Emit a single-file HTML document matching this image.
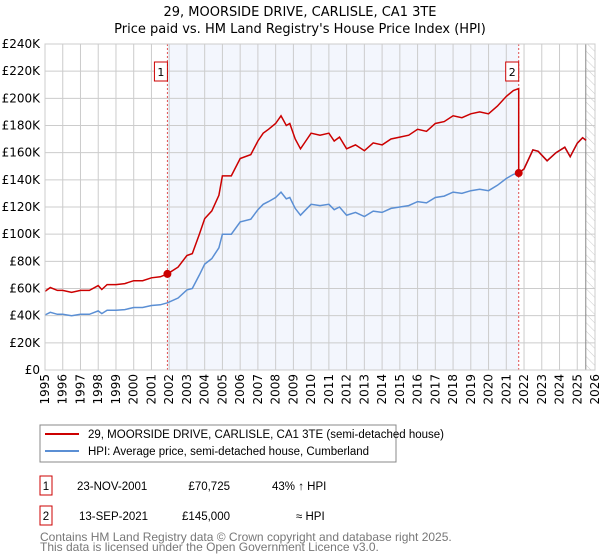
<!DOCTYPE html>
<html><head><meta charset="utf-8">
<style>
body{margin:0;background:#fff;font-family:"Liberation Sans","DejaVu Sans",sans-serif;}
#wrap{position:relative;width:600px;height:560px;overflow:hidden;}
svg text{font-family:"DejaVu Sans","Liberation Sans",sans-serif;}
svg text.lib{font-family:"Liberation Sans","DejaVu Sans",sans-serif;}
</style></head>
<body>
<div id="wrap">
<svg id="chart" width="600" height="560" xmlns="http://www.w3.org/2000/svg">
<defs>
<pattern id="hatch" width="6" height="6" patternUnits="userSpaceOnUse" patternTransform="rotate(-45)">
<line x1="0" y1="0" x2="0" y2="6" stroke="#ccc" stroke-width="1"/>
</pattern>
</defs>
<text x="300" y="16" text-anchor="middle" font-size="13" fill="#000">29, MOORSIDE DRIVE, CARLISLE, CA1 3TE</text>
<text x="300" y="33" text-anchor="middle" font-size="13" fill="#000">Price paid vs. HM Land Registry's House Price Index (HPI)</text>
<g id="plot"></g>
<g>
<rect x="40" y="425" width="356" height="37" fill="#fff" stroke="#888" stroke-width="1"/>
<line x1="45" y1="434" x2="79" y2="434" stroke="#cc0000" stroke-width="2"/>
<text class="lib" x="88" y="438" font-size="11.5">29, MOORSIDE DRIVE, CARLISLE, CA1 3TE (semi-detached house)</text>
<line x1="45" y1="451" x2="79" y2="451" stroke="#5b8fd4" stroke-width="2"/>
<text class="lib" x="88" y="455" font-size="11.5">HPI: Average price, semi-detached house, Cumberland</text>
</g>
<g>
<rect x="40" y="476" width="12" height="19" fill="#fff" stroke="#cc0000"/>
<text class="lib" x="46" y="490" font-size="11.5" text-anchor="middle">1</text>
<text class="lib" x="77" y="490" font-size="11.5">23-NOV-2001</text>
<text class="lib" x="230" y="490" font-size="11.5" text-anchor="end">£70,725</text>
<text class="lib" x="272" y="490" font-size="11.5">43% ↑ HPI</text>
<rect x="40" y="506" width="12" height="19" fill="#fff" stroke="#cc0000"/>
<text class="lib" x="46" y="520" font-size="11.5" text-anchor="middle">2</text>
<text class="lib" x="79" y="520" font-size="11.5">13-SEP-2021</text>
<text class="lib" x="230" y="520" font-size="11.5" text-anchor="end">£145,000</text>
<text class="lib" x="296" y="520" font-size="11.5">≈ HPI</text>
</g>
<text class="lib" x="40" y="541" font-size="12" fill="#777">Contains HM Land Registry data © Crown copyright and database right 2025.</text>
<text class="lib" x="40" y="551" font-size="12" fill="#777">This data is licensed under the Open Government Licence v3.0.</text>
</svg>
</div>
<script>
const hpiYears=[1995,1995.3,1995.7,1996,1996.5,1997,1997.5,1998,1998.2,1998.5,1999,1999.5,2000,2000.5,2001,2001.5,2001.9,2002.5,2003,2003.3,2003.7,2004,2004.4,2004.8,2005,2005.5,2006,2006.6,2007,2007.3,2007.6,2008,2008.3,2008.6,2008.8,2009.1,2009.4,2009.7,2010,2010.5,2011,2011.3,2011.6,2012,2012.5,2013,2013.5,2014,2014.5,2015,2015.5,2016,2016.5,2017,2017.5,2018,2018.5,2019,2019.5,2020,2020.5,2021,2021.4,2021.7,2022,2022.5,2022.8,2023.3,2023.8,2024.3,2024.6,2025,2025.3,2025.5];
const hpiValues=[40.5,42.5,41,41,40,41,41,43.5,41.5,44,44,44.5,46,46,47.5,48,49.5,53,59,60,70,78,82,90,100,100,109,111,118,122,124,127,131,126,127,119,114,118,122,121,122,118,120,114,116,113,117,116,119,120,121,124,123,127,128,131,130,132,133,132,136,141,144,145,148,162,161,154,160,164,157,167,171,169];
const saleYears=[2001.9,2021.7];
const saleValues=[70.725,145];
const yTicks=[0,20,40,60,80,100,120,140,160,180,200,220,240];
const yTickLabels=["£0","£20K","£40K","£60K","£80K","£100K","£120K","£140K","£160K","£180K","£200K","£220K","£240K"];
const xTicks=[1995,1996,1997,1998,1999,2000,2001,2002,2003,2004,2005,2006,2007,2008,2009,2010,2011,2012,2013,2014,2015,2016,2017,2018,2019,2020,2021,2022,2023,2024,2025,2026];
const dataEndYear=2025.48;

const X0=45,X1=595,Y0=370,Y1=44;
const xs=y=>X0+(y-1995)/(2026-1995)*(X1-X0);
const ys=v=>Y0-(v/240)*(Y0-Y1);
const NS="http://www.w3.org/2000/svg";
const plot=document.getElementById('plot');
function mk(t,a){const e=document.createElementNS(NS,t);for(const k in a)e.setAttribute(k,a[k]);plot.appendChild(e);return e;}
function interp(yr){for(let i=1;i<hpiYears.length;i++){if(yr<=hpiYears[i]){const t=(yr-hpiYears[i-1])/(hpiYears[i]-hpiYears[i-1]);return hpiValues[i-1]+t*(hpiValues[i]-hpiValues[i-1]);}}return hpiValues[hpiValues.length-1];}

let e=mk('rect',{x:xs(saleYears[0]),y:Y1,width:xs(saleYears[1])-xs(saleYears[0]),height:Y0-Y1,fill:'#f3f6fd'});


e=mk('rect',{x:xs(dataEndYear),y:Y1,width:X1-xs(dataEndYear),height:Y0-Y1,fill:'url(#hatch)'});


yTicks.forEach((v,i)=>{
 const g=mk('line',{x1:X0,x2:X1,y1:ys(v),y2:ys(v),stroke:'#ccc','stroke-width':1});
 
 
 const t=mk('text',{x:X0-5,y:ys(v)+4,'text-anchor':'end','font-size':12,fill:'#000'});
 t.textContent=yTickLabels[i];
 
 
});
xTicks.forEach(yr=>{
 const g=mk('line',{x1:xs(yr),x2:xs(yr),y1:Y1,y2:Y0,stroke:'#ccc','stroke-width':1});
 
 
 const t=mk('text',{x:0,y:0,'text-anchor':'end','font-size':12,fill:'#000',transform:`translate(${xs(yr)+4},374) rotate(-90)`});
 t.textContent=yr;
 
 
});
e=mk('line',{x1:xs(dataEndYear),x2:xs(dataEndYear),y1:Y1,y2:Y0,stroke:'#888','stroke-width':1});


saleYears.forEach((yr,i)=>{
 const l=mk('line',{x1:xs(yr),x2:xs(yr),y1:Y1,y2:Y0,stroke:'#e05050','stroke-width':1,'stroke-dasharray':'2,2'});
 
 
});
let d=hpiYears.map((yr,i)=>(i?'L':'M')+xs(yr).toFixed(1)+','+ys(hpiValues[i]).toFixed(1)).join('');
e=mk('path',{d:d,fill:'none',stroke:'#5b8fd4','stroke-width':1.5});


const r1=saleValues[0]/interp(saleYears[0]), r2=saleValues[1]/interp(saleYears[1]);
let pts=[];
hpiYears.forEach((yr,i)=>{if(yr<saleYears[1])pts.push([yr,hpiValues[i]*r1]);});
pts.push([saleYears[1],interp(saleYears[1])*r1]);
pts.push([saleYears[1],saleValues[1]]);
hpiYears.forEach((yr,i)=>{if(yr>saleYears[1])pts.push([yr,hpiValues[i]*r2]);});
d=pts.map((p,i)=>(i?'L':'M')+xs(p[0]).toFixed(1)+','+ys(p[1]).toFixed(1)).join('');
e=mk('path',{d:d,fill:'none',stroke:'#cc0000','stroke-width':1.5});


saleYears.forEach((yr,i)=>{
 const c=mk('circle',{cx:xs(yr),cy:ys(saleValues[i]),r:4,fill:'#cc0000'});
 
 
 const bx=xs(yr)-12;
 const r=mk('rect',{x:bx-1,y:62,width:13,height:19,fill:'#fff',stroke:'#cc0000'});
 
 
 const t=mk('text',{x:bx+5.5,y:76,'text-anchor':'middle','font-size':11});
 t.textContent=String(i+1);
 
 
});
e=mk('rect',{x:X0,y:Y1,width:X1-X0,height:Y0-Y1,fill:'none',stroke:'#ccc'});


</script>
</body></html>
